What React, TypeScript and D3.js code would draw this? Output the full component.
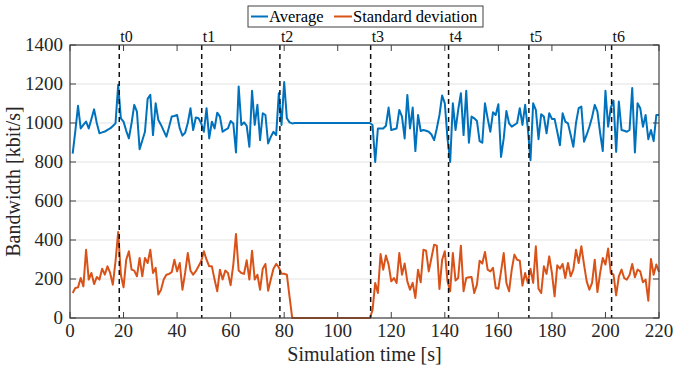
import React from 'react';
import * as d3 from 'd3';

// sampled once per second, t = 1 .. 220
const average = [
  843, 960, 1088, 972, 990, 1007, 972, 1020, 1070, 1000,
  947, 952, 956, 965, 972, 985, 998, 1196, 1024, 1007,
  960, 921, 1000, 1093, 1058, 866, 910, 955, 1124, 1144,
  938, 1101, 1015, 990, 960, 930, 980, 1033, 1036, 1041,
  972, 935, 950, 1000, 1076, 964, 1028, 1024, 998, 955,
  1076, 921, 1007, 972, 1053, 1033, 955, 965, 972, 1010,
  998, 849, 1187, 990, 1003, 985, 878, 1165, 990, 1093,
  912, 1050, 1041, 895, 929, 955, 938, 1153, 990, 1210,
  1024, 1003, 998, 1000, 1000, 1000, 1000, 1000, 1000, 1000,
  1000, 1000, 1000, 1000, 1000, 1000, 1000, 1000, 1000, 1000,
  1000, 1000, 1000, 1000, 1000, 1000, 1000, 1000, 1000, 1000,
  1000, 1000, 990, 800, 972, 972, 972, 986, 1079, 964,
  968, 972, 1067, 1033, 921, 1144, 972, 1079, 856, 1041,
  959, 964, 960, 955, 941, 912, 972, 1041, 1141, 1101,
  921, 800, 1101, 964, 1067, 1153, 938, 1165, 899, 1033,
  1024, 1010, 907, 899, 1101, 1024, 955, 1055, 1041, 1096,
  826, 921, 1062, 998, 981, 990, 1000, 1076, 990, 1093,
  972, 809, 1101, 1067, 917, 1045, 1033, 947, 1050, 1021,
  1021, 955, 886, 1050, 1007, 998, 940, 878, 1000, 1076,
  1084, 904, 940, 981, 1030, 1093, 1058, 950, 856, 1165,
  981, 1079, 1114, 852, 1110, 964, 960, 955, 964, 1179,
  849, 1101, 1076, 981, 1041, 917, 964, 907, 1041, 1041,
];

const stdDev = [
  128, 154, 157, 205, 162, 350, 197, 231, 174, 210,
  197, 253, 222, 265, 231, 171, 291, 441, 222, 157,
  299, 342, 248, 243, 214, 308, 214, 308, 282, 350,
  231, 257, 120, 145, 197, 222, 226, 235, 299, 239,
  282, 145, 231, 333, 243, 222, 240, 265, 291, 342,
  299, 265, 265, 197, 137, 248, 197, 243, 231, 168,
  274, 431, 243, 231, 226, 296, 197, 345, 197, 222,
  145, 253, 277, 140, 197, 253, 277, 260, 227, 227,
  222, 110, 0, 0, 0, 0, 0, 0, 0, 0,
  0, 0, 0, 0, 0, 0, 0, 0, 0, 0,
  0, 0, 0, 0, 0, 0, 0, 0, 0, 0,
  0, 0, 40, 180, 128, 328, 248, 320, 274, 188,
  205, 180, 333, 222, 279, 188, 145, 180, 103, 248,
  183, 350, 345, 239, 308, 376, 371, 149, 299, 342,
  188, 137, 333, 192, 205, 371, 137, 205, 209, 210,
  128, 171, 294, 279, 339, 248, 239, 257, 154, 150,
  239, 333, 180, 137, 248, 325, 299, 294, 166, 231,
  180, 253, 180, 368, 150, 128, 265, 226, 316, 231,
  111, 270, 253, 277, 205, 282, 214, 248, 350, 282,
  368, 274, 188, 145, 180, 299, 133, 230, 308, 274,
  356, 231, 222, 116, 214, 248, 205, 197, 220, 277,
  209, 248, 239, 183, 197, 89, 303, 222, 274, 236,
];

const eventLabels = ['t0', 't1', 't2', 't3', 't4', 't5', 't6'];
const eventTimes = [18.4, 49.2, 78.4, 112.3, 141.4, 171.4, 202.3];

const xTicks = [0, 20, 40, 60, 80, 100, 120, 140, 160, 180, 200, 220];
const yTicks = [0, 200, 400, 600, 800, 1000, 1200, 1400];

const W = 673;
const H = 369;
const m = { left: 70, right: 659, top: 45, bottom: 318 };
const FONT = '"Liberation Serif", "Times New Roman", serif';
const AX = '#404040';

export default function App() {
  const x = d3.scaleLinear().domain([0, 220]).range([m.left, m.right]);
  const y = d3.scaleLinear().domain([0, 1400]).range([m.bottom, m.top]);
  const line = d3
    .line<number>()
    .x((_, i) => x(i + 1))
    .y((d) => y(d));
  const tk = 6;

  return (
    <svg
      width={W}
      height={H}
      style={{ position: 'absolute', left: 0, top: 0, background: '#fff' }}
      fontFamily={FONT}
    >
      {/* grid */}
      {yTicks.map((t) => (
        <line key={'g' + t} x1={m.left} x2={m.right} y1={y(t)} y2={y(t)} stroke="#e3e3e3" strokeWidth={1} />
      ))}

      {/* series */}
      <path d={line(average) || ''} fill="none" stroke="#0072BD" strokeWidth={2} strokeLinejoin="round" />
      <path d={line(stdDev) || ''} fill="none" stroke="#D95319" strokeWidth={2} strokeLinejoin="round" />

      {/* event markers */}
      {eventTimes.map((t, i) => (
        <g key={eventLabels[i]}>
          <line x1={x(t)} x2={x(t)} y1={m.top} y2={m.bottom} stroke="#111" strokeWidth={1.5} strokeDasharray="5,4" />
          <text x={x(t) + 1} y={42} fontSize={16} fill="#111">{eventLabels[i]}</text>
        </g>
      ))}

      {/* box + ticks */}
      <rect x={m.left} y={m.top} width={m.right - m.left} height={m.bottom - m.top} fill="none" stroke={AX} strokeWidth={1.2} />
      {xTicks.map((t) => (
        <g key={'x' + t}>
          <line x1={x(t)} x2={x(t)} y1={m.bottom} y2={m.bottom - tk} stroke={AX} />
          <line x1={x(t)} x2={x(t)} y1={m.top} y2={m.top + tk} stroke={AX} />
          <text x={x(t)} y={337} fontSize={19} textAnchor="middle" fill="#262626">{t}</text>
        </g>
      ))}
      {yTicks.map((t) => (
        <g key={'y' + t}>
          <line x1={m.left} x2={m.left + tk} y1={y(t)} y2={y(t)} stroke={AX} />
          <line x1={m.right} x2={m.right - tk} y1={y(t)} y2={y(t)} stroke={AX} />
          <text x={m.left - 7} y={y(t) + 6} fontSize={19} textAnchor="end" fill="#262626">{t}</text>
        </g>
      ))}

      {/* axis labels */}
      <text x={(m.left + m.right) / 2} y={361} fontSize={20} textAnchor="middle" fill="#262626">Simulation time [s]</text>
      <text transform={`translate(20,${(m.top + m.bottom) / 2}) rotate(-90)`} fontSize={20} textAnchor="middle" fill="#262626">Bandwidth [kbit/s]</text>

      {/* legend */}
      <rect x={248} y={6} width={235} height={21} fill="#fff" stroke={AX} strokeWidth={1} />
      <line x1={251} x2={268} y1={16.5} y2={16.5} stroke="#0072BD" strokeWidth={2} />
      <text x={269} y={22} fontSize={16.5} fill="#000">Average</text>
      <line x1={334} x2={352} y1={16.5} y2={16.5} stroke="#D95319" strokeWidth={2} />
      <text x={353} y={22} fontSize={16.5} fill="#000">Standard deviation</text>
    </svg>
  );
}
